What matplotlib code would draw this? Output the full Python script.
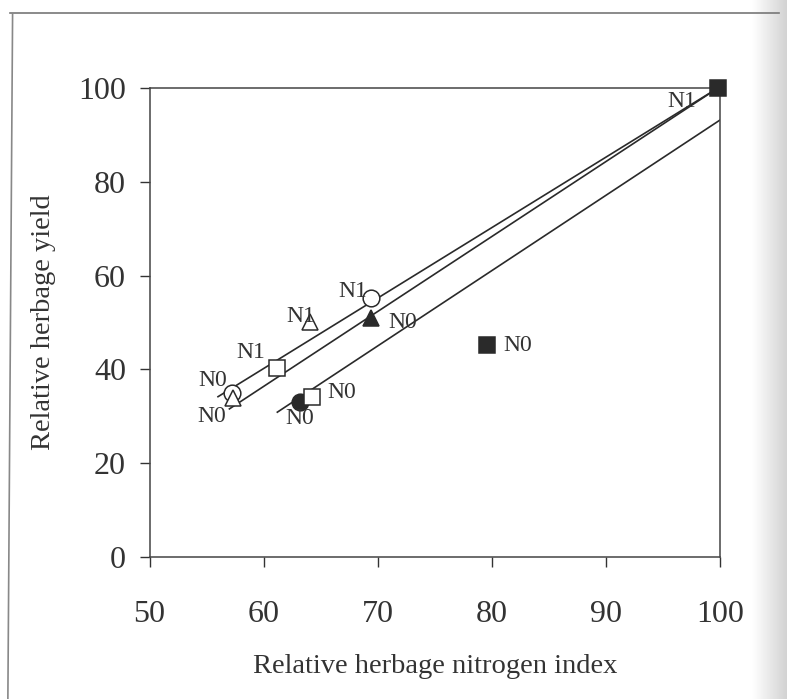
import matplotlib.pyplot as plt
import numpy as np

plt.rcParams['font.family'] = ['Liberation Serif', 'DejaVu Serif']

# points: x, y, marker, filled, label, label offset (px)
pt_x = [57.2, 57.3, 61.2, 64.1, 69.4, 69.4, 63.2, 64.2, 79.6, 99.8]
pt_y = [35.0, 33.9, 40.3, 50.1, 55.2, 51.0, 33.0, 34.1, 45.2, 100.0]
pt_marker = ['o', '^', 's', '^', 'o', '^', 'o', 's', 's', 's']
pt_filled = [False, False, False, False, False, True, True, False, True, True]
pt_label = ['N0', 'N0', 'N1', 'N1', 'N1', 'N0', 'N0', 'N0', 'N0', 'N1']
lab_dx = [-14, -15, -19, -7, -13, 23, 0, 22, 22, -26]
lab_dy = [9, -13, 11, 4, 5, -3, -12, 3, 0, -10]

# fitted lines (start / end)
line_x = [[56.0, 99.8], [57.0, 99.8], [61.2, 100.0]]
line_y = [[34.2, 100.0], [31.6, 100.0], [30.9, 93.2]]

xticks = [50, 60, 70, 80, 90, 100]
yticks = [0, 20, 40, 60, 80, 100]

fig = plt.figure(figsize=(7.87, 6.99), dpi=100)
ax = fig.add_axes([0.19, 0.203, 0.725, 0.671])

for lx, ly in zip(line_x, line_y):
    ax.plot(lx, ly, color='#2a2a2a', lw=1.2, zorder=2)

for x, y, m, f, lab, dx, dy in zip(pt_x, pt_y, pt_marker, pt_filled, pt_label, lab_dx, lab_dy):
    ax.plot(x, y, marker=m, ms=12, mew=1.1, mec='#2a2a2a',
            mfc='#2a2a2a' if f else 'white', ls='none', zorder=3, clip_on=False)
    ax.annotate(lab, (x, y), xytext=(dx, dy), textcoords='offset points',
                ha='center', va='center', fontsize=17, color='#333333', zorder=4)

ax.set_xlim(50, 100)
ax.set_ylim(0, 100)
ax.set_xticks(xticks)
ax.set_yticks(yticks)
ax.tick_params(direction='out', length=7, width=1, colors='#333333',
               labelsize=23, pad=10)
ax.tick_params(axis='x', pad=24)
for s in ax.spines.values():
    s.set_color('#444444')
    s.set_linewidth(1.1)

ax.set_xlabel('Relative herbage nitrogen index', fontsize=20.5, color='#333333', labelpad=18)
ax.set_ylabel('Relative herbage yield', fontsize=20.5, color='#333333', labelpad=16)

# scanned page frame and shaded binding on the right
fig.add_artist(plt.Line2D([0.013, 0.99], [0.982, 0.982], color='#777777', lw=1.2))
fig.add_artist(plt.Line2D([0.016, 0.01], [0.98, 0.0], color='#888888', lw=1.2))
shade = fig.add_axes([0.955, 0.0, 0.045, 1.0], zorder=-1)
shade.imshow(np.linspace(1.0, 0.82, 40)[None, :], cmap='gray', vmin=0, vmax=1,
             aspect='auto', extent=[0, 1, 0, 1])
shade.axis('off')

fig.savefig('out.png', dpi=100)
